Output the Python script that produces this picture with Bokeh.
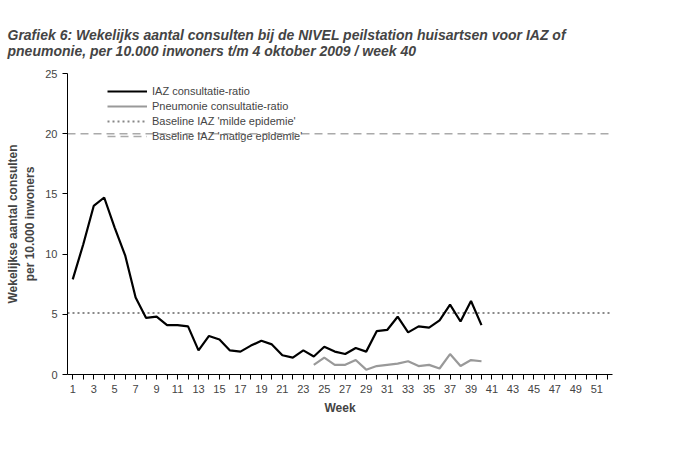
from bokeh.plotting import figure
from bokeh.models import Legend, LegendItem, FixedTicker
from bokeh.embed import file_html
from bokeh.resources import INLINE

weeks_iaz = list(range(1, 41))
iaz = [7.9, 10.8, 14.0, 14.7, 12.2, 9.9, 6.4, 4.7, 4.8, 4.1, 4.1, 4.0, 2.0, 3.2, 2.9, 2.0, 1.9, 2.4, 2.8, 2.5,
       1.6, 1.4, 2.0, 1.5, 2.3, 1.9, 1.7, 2.2, 1.9, 3.6, 3.7, 4.8, 3.5, 4.0, 3.9, 4.5, 5.8, 4.4, 6.1, 4.1]
weeks_pn = list(range(24, 41))
pneu = [0.8, 1.4, 0.8, 0.8, 1.2, 0.4, 0.7, 0.8, 0.9, 1.1, 0.7, 0.8, 0.5, 1.7, 0.7, 1.2, 1.1]
baseline_mild = 5.1
baseline_matig = 20.0
all_weeks = list(range(1, 53))
x_tick_labels = {w: (str(w) if w % 2 == 1 else "") for w in all_weeks}

p = figure(width=684, height=434, output_backend="svg", toolbar_location=None,
           x_range=(0.5, 52.5), y_range=(0, 25),
           title="Grafiek 6: Wekelijks aantal consulten bij de NIVEL peilstation huisartsen voor IAZ of\npneumonie, per 10.000 inwoners t/m 4 oktober 2009 / week 40",
           min_border_left=67, min_border_right=72, min_border_bottom=60, min_border_top=73)
p.title.text_font = "Liberation Sans"
p.title.text_font_size = "14px"
p.title.text_font_style = "bold italic"
p.title.standoff = 30
p.title.offset = -60
p.outline_line_color = None
p.xgrid.visible = False
p.ygrid.visible = False

r_mild = p.line([0.5, 52.5], [baseline_mild]*2, line_color="#888888", line_dash="2 3", line_width=2)
r_matig = p.line([0.5, 52.5], [baseline_matig]*2, line_color="#aaaaaa", line_dash="8 5", line_width=1.5)
r_iaz = p.line(weeks_iaz, iaz, line_color="black", line_width=2.2)
r_pn = p.line(weeks_pn, pneu, line_color="#999999", line_width=2.2)

p.xaxis.ticker = FixedTicker(ticks=all_weeks)
p.xaxis.major_label_overrides = x_tick_labels
p.yaxis.ticker = FixedTicker(ticks=[0, 5, 10, 15, 20, 25])
p.xaxis.minor_tick_line_color = None
p.yaxis.minor_tick_line_color = None
p.xaxis.major_tick_in = 0
p.xaxis.major_tick_out = 5
p.yaxis.major_tick_in = 0
p.yaxis.major_tick_out = 5
for ax in (p.xaxis, p.yaxis):
    ax.major_label_text_font = "Liberation Sans"
    ax.major_label_text_font_size = "11px"
    ax.axis_label_text_font = "Liberation Sans"
    ax.axis_label_text_font_size = "12px"
    ax.axis_label_text_font_style = "bold"
    ax.axis_line_color = "black"
    ax.major_tick_line_color = "black"
p.xaxis.axis_label = "Week"
p.yaxis.axis_label = "Wekelijkse aantal consulten\nper 10.000 inwoners"

legend = Legend(items=[
    LegendItem(label="IAZ consultatie-ratio", renderers=[r_iaz]),
    LegendItem(label="Pneumonie consultatie-ratio", renderers=[r_pn]),
    LegendItem(label="Baseline IAZ 'milde epidemie'", renderers=[r_mild]),
    LegendItem(label="Baseline IAZ 'matige epidemie'", renderers=[r_matig]),
], location=(40, 232), border_line_color=None, background_fill_alpha=0,
    label_text_font="Liberation Sans", label_text_font_size="11px",
    glyph_width=40, glyph_height=10, label_height=10, spacing=3, padding=2, margin=0)
p.add_layout(legend, "center")

open("out.html", "w").write(file_html(p, INLINE))
